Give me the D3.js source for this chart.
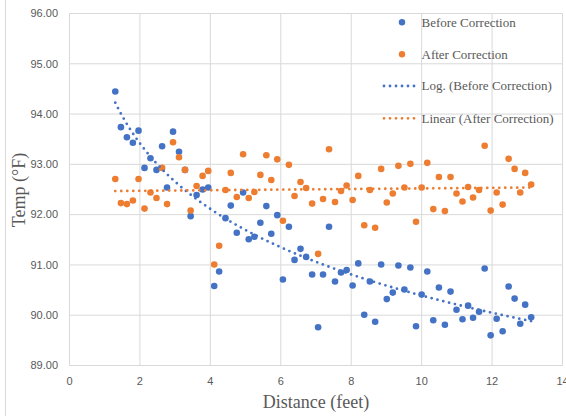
<!DOCTYPE html>
<html>
<head>
<meta charset="utf-8">
<script src="https://cdn.jsdelivr.net/npm/d3@7"></script>
<style>
    body { margin: 0; background: #fff; }
    svg { display: block; }
</style>
</head>
<body>
<svg id="chart" width="566" height="416"></svg>
<script>
// Distance (feet) of each reading, shared by both series
const distance = [1.30, 1.46, 1.63, 1.80, 1.96, 2.13, 2.30, 2.47, 2.63, 2.77, 2.94, 3.11,
    3.28, 3.44, 3.61, 3.78, 3.94, 4.11, 4.25, 4.43, 4.58, 4.75, 4.93,
    5.09, 5.25, 5.42, 5.59, 5.73, 5.90, 6.06, 6.23, 6.39, 6.56, 6.72, 6.89,
    7.06, 7.20, 7.37, 7.54, 7.71, 7.87, 8.04, 8.20, 8.37, 8.53, 8.68, 8.85,
    9.01, 9.18, 9.34, 9.51, 9.68, 9.84, 10.00, 10.16, 10.33, 10.49, 10.66, 10.82,
    10.99, 11.16, 11.32, 11.46, 11.63, 11.79, 11.96, 12.13, 12.30, 12.47, 12.64, 12.80, 12.94, 13.11];

const beforeTemps = [94.45, 93.74, 93.54, 93.43, 93.67, 92.93, 93.12, 92.89, 93.36, 92.54, 93.65, 93.25,
    92.89, 91.97, 92.39, 92.50, 92.54, 90.58, 90.87, 91.93, 92.18, 91.64, 92.44,
    91.51, 91.56, 91.84, 92.17, 91.62, 91.99, 90.71, 91.76, 91.10, 91.32, 91.16, 90.81,
    89.76, 90.81, 91.76, 90.67, 90.85, 90.90, 90.59, 91.03, 90.01, 90.67, 89.87, 91.01,
    90.32, 90.45, 90.99, 90.51, 90.95, 89.78, 90.41, 90.87, 89.90, 90.55, 89.81, 90.47,
    90.11, 89.92, 90.19, 89.95, 90.07, 90.93, 89.60, 89.93, 89.68, 90.57, 90.33, 89.83, 90.21, 89.96];

const afterTemps = [92.71, 92.23, 92.21, 92.28, 92.71, 92.12, 92.44, 92.33, 92.93, 92.21, 93.44, 93.14,
    92.89, 92.08, 92.57, 92.77, 92.87, 91.01, 91.38, 92.49, 92.83, 92.35, 93.20,
    92.33, 92.45, 92.79, 93.18, 92.69, 93.10, 91.88, 92.99, 92.37, 92.65, 92.53, 92.22,
    91.22, 92.31, 93.30, 92.25, 92.47, 92.58, 92.29, 92.77, 91.79, 92.49, 91.74, 92.91,
    92.24, 92.42, 92.97, 92.54, 93.01, 91.86, 92.54, 93.03, 92.11, 92.75, 92.07, 92.75,
    92.42, 92.26, 92.55, 92.34, 92.49, 93.37, 92.08, 92.44, 92.20, 93.11, 92.91, 92.44, 92.83, 92.60];

const xTicks = [0, 2, 4, 6, 8, 10, 12, 14];
const yTicks = [89, 90, 91, 92, 93, 94, 95, 96];
const legendLabels = ["Before Correction", "After Correction", "Log. (Before Correction)", "Linear (After Correction)"];

const blue = "#4472C4";
const orange = "#ED7D31";
const textGray = "#595959";
const gridGray = "#d9d9d9";

const svg = d3.select("#chart");
svg.append("rect").attr("width", 566).attr("height", 416).attr("fill", "#fff");

// outer chart border (only the left edge is inside the picture)
svg.append("line")
    .attr("x1", 5.5).attr("x2", 5.5).attr("y1", 0).attr("y2", 416)
    .attr("stroke", gridGray);

const xScale = d3.scaleLinear().domain([0, 14]).range([69.5, 562.5]);
const yScale = d3.scaleLinear().domain([89, 96]).range([365.5, 13.5]);

// gridlines
svg.append("g").selectAll("line").data(xTicks).join("line")
    .attr("x1", d => xScale(d)).attr("x2", d => xScale(d))
    .attr("y1", yScale(96)).attr("y2", yScale(89))
    .attr("stroke", gridGray);
svg.append("g").selectAll("line").data(yTicks).join("line")
    .attr("x1", xScale(0)).attr("x2", xScale(14))
    .attr("y1", d => yScale(d)).attr("y2", d => yScale(d))
    .attr("stroke", gridGray);

// tick labels
svg.append("g").selectAll("text").data(yTicks).join("text")
    .attr("x", 58).attr("y", d => yScale(d)).attr("dy", "0.35em")
    .attr("text-anchor", "end")
    .attr("font-family", "Liberation Sans, Arial, sans-serif").attr("font-size", 11)
    .attr("fill", textGray)
    .text(d => d.toFixed(2));
svg.append("g").selectAll("text").data(xTicks).join("text")
    .attr("x", d => xScale(d)).attr("y", 385)
    .attr("text-anchor", "middle")
    .attr("font-family", "Liberation Sans, Arial, sans-serif").attr("font-size", 11)
    .attr("fill", textGray)
    .text(d => d);

// axis titles
svg.append("text")
    .attr("x", xScale(7)).attr("y", 408)
    .attr("text-anchor", "middle")
    .attr("font-family", "Liberation Serif, Times New Roman, serif").attr("font-size", 18)
    .attr("fill", textGray)
    .text("Distance (feet)");
svg.append("text")
    .attr("transform", "translate(25,190) rotate(-90)")
    .attr("text-anchor", "middle")
    .attr("font-family", "Liberation Serif, Times New Roman, serif").attr("font-size", 18)
    .attr("fill", textGray)
    .text("Temp (°F)");

// points
const before = distance.map((x, i) => ({x: x, y: beforeTemps[i]}));
const after = distance.map((x, i) => ({x: x, y: afterTemps[i]}));

svg.append("g").selectAll("circle").data(before).join("circle")
    .attr("cx", d => xScale(d.x)).attr("cy", d => yScale(d.y)).attr("r", 3.3)
    .attr("fill", blue);
svg.append("g").selectAll("circle").data(after).join("circle")
    .attr("cx", d => xScale(d.x)).attr("cy", d => yScale(d.y)).attr("r", 3.3)
    .attr("fill", orange);

// least squares fit of y against f(x), like the spreadsheet trendlines
function fit(points, f) {
    let n = points.length;
    let mx = d3.mean(points, p => f(p.x));
    let my = d3.mean(points, p => p.y);
    let sxy = d3.sum(points, p => (f(p.x) - mx) * (p.y - my));
    let sxx = d3.sum(points, p => (f(p.x) - mx) ** 2);
    let slope = sxy / sxx;
    return {slope: slope, intercept: my - slope * mx};
}

const logFit = fit(before, Math.log);
const linFit = fit(after, x => x);
const xMin = d3.min(distance), xMax = d3.max(distance);

// the log trend is a curve, so sample it along the x range
const trendX = d3.range(0, 81).map(i => xMin + (xMax - xMin) * i / 80);

const line = d3.line().x(d => xScale(d.x)).y(d => yScale(d.y));

svg.append("path")
    .attr("d", line(trendX.map(x => ({x: x, y: logFit.intercept + logFit.slope * Math.log(x)}))))
    .attr("fill", "none").attr("stroke", blue).attr("stroke-width", 2.8)
    .attr("stroke-linecap", "round").attr("stroke-dasharray", "0 6");
svg.append("path")
    .attr("d", line([xMin, xMax].map(x => ({x: x, y: linFit.intercept + linFit.slope * x}))))
    .attr("fill", "none").attr("stroke", orange).attr("stroke-width", 2.8)
    .attr("stroke-linecap", "round").attr("stroke-dasharray", "0 6");

// legend (no background, gridlines show through)
const legend = svg.append("g");
const legendY = [22.3, 54.3, 86, 118.3];
const legendColors = [blue, orange, blue, orange];

legendLabels.forEach((label, i) => {
    if (i < 2) {
        legend.append("circle")
            .attr("cx", 402).attr("cy", legendY[i]).attr("r", 3.2)
            .attr("fill", legendColors[i]);
    } else {
        legend.append("line")
            .attr("x1", 384).attr("x2", 416)
            .attr("y1", legendY[i]).attr("y2", legendY[i])
            .attr("stroke", legendColors[i]).attr("stroke-width", 2.8)
            .attr("stroke-linecap", "round").attr("stroke-dasharray", "0 6");
    }
    legend.append("text")
        .attr("x", 421.5).attr("y", legendY[i]).attr("dy", "0.33em")
        .attr("font-family", "Liberation Serif, Times New Roman, serif").attr("font-size", 13)
        .attr("fill", textGray)
        .text(label);
});
</script>
</body>
</html>
